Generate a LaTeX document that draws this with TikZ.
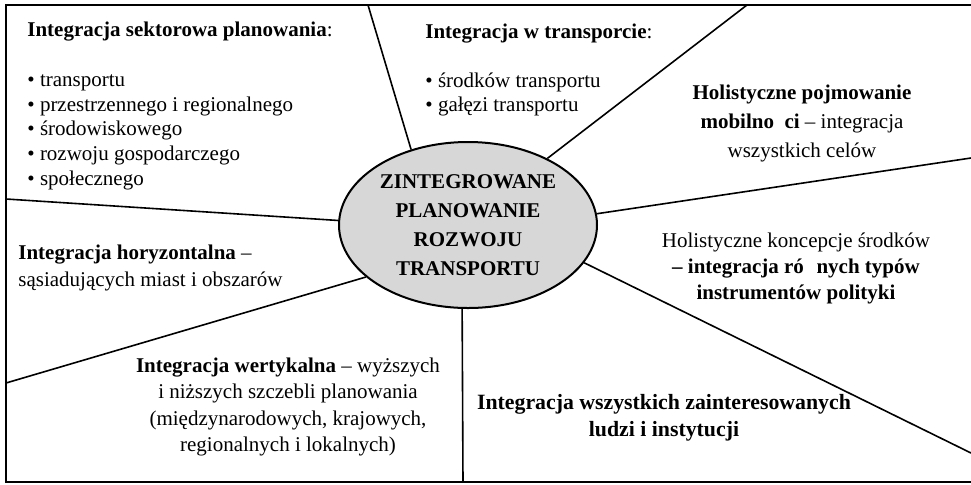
\documentclass[tikz,border=0pt]{standalone}
\usepackage{fontspec}
\setmainfont{Liberation Serif}
\usepackage{tikz}
\usepackage{xcolor}
\usetikzlibrary{shapes.geometric}
\definecolor{ovalgray}{RGB}{215,215,215}

\begin{document}
\begin{tikzpicture}[x=0.5pt,y=-0.5pt,
    every node/.style={inner sep=0pt},
    lbl/.style={font=\fontsize{10.5}{#1}\selectfont},
    spoke/.style={line width=0.8pt},
    frame/.style={line width=1.1pt}]
    \useasboundingbox (0,0) rectangle (971,484);
    \draw[frame] (971,5) -- (6,5) -- (6,482) -- (971,482);
    \node[ellipse,draw,fill=ovalgray,line width=1pt,minimum width=129pt,
      minimum height=83pt,align=center,
      font=\bfseries\fontsize{10.5}{14.5}\selectfont] (Z) at (468,225)
      {ZINTEGROWANE\\PLANOWANIE\\ROZWOJU\\TRANSPORTU};
    % free ends on the frame
    \coordinate (t1) at (368,5);
    \coordinate (t2) at (747,5);
    \coordinate (r1) at (971,158);
    \coordinate (r2) at (971,453);
    \coordinate (b1) at (463,482);
    \coordinate (l1) at (6,383);
    \coordinate (l2) at (6,199);
    \foreach \a/\p in {127.5/t1,40.4/t2,5.7/r1,-18.3/r2,266.6/b1,207.7/l1,178.7/l2} {
      \draw[spoke] (Z.\a) -- (\p);
    }
    \node[lbl=12.35pt,align=left,anchor=west] (sek) at (27,106)
      {\textbf{Integracja sektorowa planowania}:\\[12.35pt]
       • transportu\\• przestrzennego i regionalnego\\• środowiskowego\\
       • rozwoju gospodarczego\\• społecznego};
    \node[lbl=12.25pt,align=left,anchor=west] (tra) at (425,70)
      {\textbf{Integracja w transporcie}:\\[12.25pt]
       • środków transportu\\• gałęzi transportu};
    \node[lbl=14.5pt,align=center] (mob) at (802,123)
      {\textbf{Holistyczne pojmowanie}\\
       \textbf{mobilno\enspace ci} – integracja\\wszystkich celów};
    \node[lbl=13pt,align=center] (srod) at (796,268)
      {Holistyczne koncepcje środków\\
       \textbf{– integracja ró\hspace{0.35em} nych typów}\\\textbf{instrumentów polityki}};
    \node[align=center,font=\bfseries\fontsize{10.9}{13.5}\selectfont] (lud) at (664,418)
      {Integracja wszystkich zainteresowanych\\ludzi i instytucji};
    \node[lbl=13.5pt,align=left,anchor=west] (hor) at (18,268)
      {\textbf{Integracja horyzontalna} –\\sąsiadujących miast i obszarów};
    \node[lbl=13.3pt,align=center] (wer) at (288,407)
      {\textbf{Integracja wertykalna} – wyższych\\i niższych szczebli planowania\\
       (międzynarodowych, krajowych,\\regionalnych i lokalnych)};
  \end{tikzpicture}
\end{document}
